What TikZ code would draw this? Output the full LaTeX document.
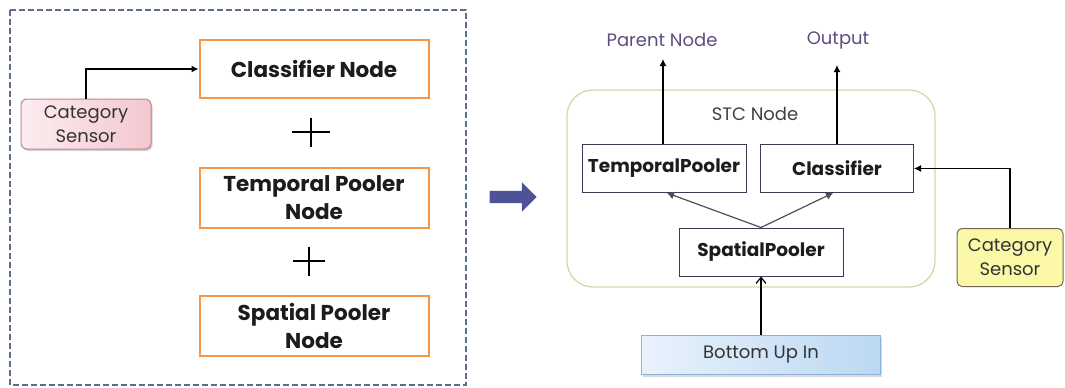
\documentclass[tikz,border=0pt]{standalone}
\usepackage{fontspec}
\setmainfont{Poppins}
\usetikzlibrary{arrows.meta,shapes.arrows,shadows}
\definecolor{frameblue}{HTML}{5B6F8C}
\definecolor{boxorange}{HTML}{F79646}
\definecolor{pinkA}{HTML}{FCEDF0}
\definecolor{pinkB}{HTML}{F3C7D0}
\definecolor{pinkEdge}{HTML}{B98590}
\definecolor{sensorYellow}{HTML}{FBF8A8}
\definecolor{yellowEdge}{HTML}{6E6A55}
\definecolor{blueA}{HTML}{E8F2FC}
\definecolor{blueB}{HTML}{BCD8F2}
\definecolor{blueEdge}{HTML}{8EB2DA}
\definecolor{stcEdge}{HTML}{CCDCA8}
\definecolor{labelPurple}{HTML}{5E4C80}
\definecolor{boxEdge}{HTML}{3C3A52}
\definecolor{linkGray}{HTML}{505050}
\definecolor{bigArrow}{HTML}{4E5296}
\definecolor{inkText}{HTML}{1C1C1C}
\tikzset{
  orangebox/.style={draw=boxorange,line width=2pt,minimum width=229pt,minimum height=58pt,
    align=center,font=\fontsize{21.5}{28}\selectfont\bfseries,text=inkText},
  modbox/.style={draw=boxEdge,line width=1pt,fill=white,minimum height=48pt,
    font=\fontsize{18.5}{20}\selectfont\bfseries,text=inkText},
  pinksensor/.style={draw=pinkEdge,line width=1pt,rounded corners=6pt,left color=pinkA,right color=pinkB,
    minimum width=130pt,minimum height=50pt,align=center,font=\fontsize{18}{24}\selectfont,text=black!80,
    inner sep=1pt,drop shadow={shadow xshift=1.5pt,shadow yshift=-2pt,opacity=0.35}},
  yellowsensor/.style={draw=yellowEdge,line width=1pt,rounded corners=5pt,fill=sensorYellow,
    minimum width=106pt,minimum height=58pt,align=center,font=\fontsize{18}{24}\selectfont,text=black!80,
    inner sep=1pt},
  inbox/.style={draw=blueEdge,line width=1pt,left color=blueA,right color=blueB,
    minimum width=239pt,minimum height=39pt,font=\fontsize{18}{20}\selectfont,text=black!80,
    drop shadow={shadow xshift=1.5pt,shadow yshift=-2pt,opacity=0.3}},
  toplabel/.style={font=\fontsize{18}{20}\selectfont,text=labelPurple},
  flow/.style={line width=1.2pt,draw=black,-{Latex[length=7pt,width=7pt]}},
  split/.style={line width=1.2pt,draw=linkGray,-{Latex[length=7pt,width=8pt]}},
  plusbar/.style={line width=2pt,draw=black}
}
\begin{document}
\begin{tikzpicture}[x=1pt,y=-1pt]
\useasboundingbox (0,0) rectangle (1065,388);

% ---- left panel: the three separate nodes ----
\draw[frameblue,line width=1.5pt,dash pattern=on 6pt off 3pt] (10,10) rectangle (466,385);
\node[orangebox] (cls) at (314,69) {Classifier Node};
\node[orangebox,minimum height=60pt] (tpn) at (314,198) {Temporal Pooler\\Node};
\node[orangebox,minimum height=60pt] (spn) at (314,326) {Spatial Pooler\\Node};
\node[pinksensor] (sensL) at (86,124) {Category\\Sensor};
\draw[flow] (sensL.north) |- (cls.west);

% plus signs between the boxes
\coordinate (plA) at (311,132);
\coordinate (plB) at (309,261);
\draw[plusbar] ([xshift=-19pt]plA) -- ([xshift=19pt]plA);
\draw[plusbar] ([yshift=14.5pt]plA) -- ([yshift=-14.5pt]plA);
\draw[plusbar] ([xshift=-16pt]plB) -- ([xshift=16pt]plB);
\draw[plusbar] ([yshift=14.5pt]plB) -- ([yshift=-14.5pt]plB);

% ---- transition arrow ----
\node[single arrow,fill=bigArrow,draw=none,minimum width=29pt,minimum height=47pt,
  single arrow head extend=8.5pt,single arrow head indent=0pt,inner xsep=0pt,inner ysep=6pt,
  text height=0pt,text depth=0pt] (go) at (510,197) {};

% ---- right panel: the combined STC node ----
\node[draw=stcEdge,line width=1.3pt,rounded corners=26pt,minimum width=368pt,minimum height=197pt] (stc) at (751,188.5) {};
\node[font=\fontsize{18}{20}\selectfont,text=black!75] (stcl) at (755,114) {STC Node};
\node[modbox,minimum width=164pt] (tp) at (664,168.5) {TemporalPooler};
\node[modbox,minimum width=153pt] (clr) at (837,168.5) {Classifier};
\node[modbox,minimum width=164pt] (sp) at (761,252) {SpatialPooler};
\node[yellowsensor] (sensR) at (1010,257.5) {Category\\Sensor};
\node[inbox] (bui) at (761,355) {Bottom Up In};
\node[toplabel] (par) at (662,40) {Parent Node};
\node[toplabel] (out) at (838,40) {Output};
\coordinate (parTip) at (663,59);
\coordinate (outTip) at (837,65);

\draw[flow] (tp.north -| parTip) -- (parTip);
\draw[flow] (clr.north -| outTip) -- (outTip);
\draw[flow] (sensR.north) |- (clr.east);
\draw[split] (sp.north) -- ([xshift=3pt]tp.south);
\draw[split] (sp.north) -- ([xshift=-4pt]clr.south);
\draw[line width=1.2pt,-{Straight Barb[length=6pt,width=10pt]}] (bui.north) -- (sp.south);
\end{tikzpicture}
\end{document}
